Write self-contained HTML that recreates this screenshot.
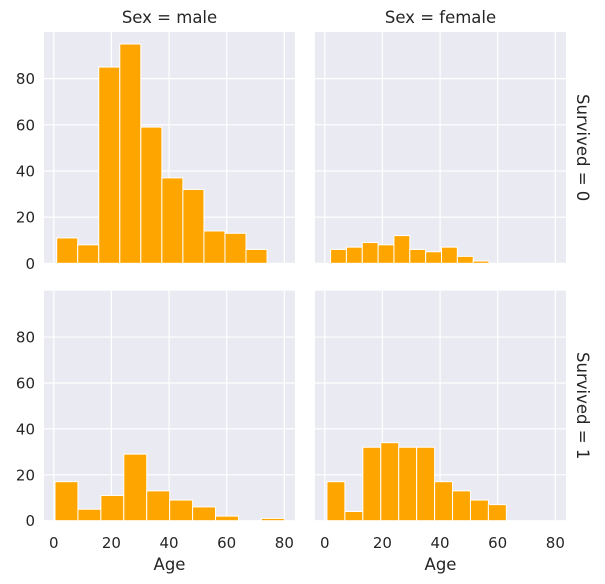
<!DOCTYPE html>
<html><head><meta charset="utf-8"><style>
body{margin:0;background:#fff;}
svg{display:block;font-family:"DejaVu Sans","Liberation Sans",sans-serif;}
</style></head><body>
<svg id="chart" width="605" height="584" viewBox="0 0 605 584"></svg>
<script>
// Data arrays
const ageTicks = [0, 20, 40, 60, 80];
const countTicks = [0, 20, 40, 60, 80];
const maleDiedCounts = [11, 8, 85, 95, 59, 37, 32, 14, 13, 6];
const maleDiedRange = [1, 74];
const maleSurvivedCounts = [17, 5, 11, 29, 13, 9, 6, 2, 0, 1];
const maleSurvivedRange = [0.42, 80];
const femaleDiedCounts = [6, 7, 9, 8, 12, 6, 5, 7, 3, 1];
const femaleDiedRange = [2, 57];
const femaleSurvivedCounts = [17, 4, 32, 34, 32, 32, 17, 13, 9, 7];
const femaleSurvivedRange = [0.75, 63];
const colTitles = ["Sex = male", "Sex = female"];
const rowTitles = ["Survived = 0", "Survived = 1"];

const svg = document.getElementById('chart');
const NS = 'http://www.w3.org/2000/svg';
function mk(tag, attrs, parent){const e=document.createElementNS(NS,tag);for(const k in attrs)e.setAttribute(k,attrs[k]);(parent||svg).appendChild(e);return e;}

const colX = [[44,295],[315,566]];
const rowY = [[32,263.3],[290.7,520.7]];
const xDom = [-3.4, 83.7], yDom = [0, 100.2];

const panels = [
 {r:0,c:0,counts:maleDiedCounts,range:maleDiedRange,name:'male-died'},
 {r:0,c:1,counts:femaleDiedCounts,range:femaleDiedRange,name:'female-died'},
 {r:1,c:0,counts:maleSurvivedCounts,range:maleSurvivedRange,name:'male-survived'},
 {r:1,c:1,counts:femaleSurvivedCounts,range:femaleSurvivedRange,name:'female-survived'}
];

panels.forEach(p=>{
  const [x0,x1]=colX[p.c],[y0,y1]=rowY[p.r];
  const sx=v=>x0+(v-xDom[0])/(xDom[1]-xDom[0])*(x1-x0);
  const sy=v=>y1-(v-yDom[0])/(yDom[1]-yDom[0])*(y1-y0);
  const g=mk('g',{});
  
  
  const bg=mk('rect',{x:x0,y:y0,width:x1-x0,height:y1-y0,fill:'#eaeaf2'},g);
  
  
  ageTicks.forEach(t=>{
    const l=mk('line',{x1:sx(t),x2:sx(t),y1:y0,y2:y1,stroke:'#fff','stroke-width':1.2},g);
    
    
  });
  countTicks.forEach(t=>{
    const l=mk('line',{x1:x0,x2:x1,y1:sy(t),y2:sy(t),stroke:'#fff','stroke-width':1.2},g);
    
    
  });
  const n=p.counts.length, w=(p.range[1]-p.range[0])/n;
  p.counts.forEach((v,i)=>{
    if(v<=0) return;
    const a=p.range[0]+i*w, b=a+w;
    const r=mk('rect',{x:sx(a),y:sy(v),width:sx(b)-sx(a),height:sy(0)-sy(v),fill:'#ffa500',stroke:'#fff','stroke-width':1},g);
    
    
  });
  if(p.c===0){
    countTicks.forEach(t=>{
      const tx=mk('text',{x:x0-9,y:sy(t)+5.5,'text-anchor':'end','font-size':15,fill:'#262626'},g);
      tx.textContent=t;
      
      
    });
  }
  if(p.r===1){
    ageTicks.forEach(t=>{
      const tx=mk('text',{x:sx(t),y:548,'text-anchor':'middle','font-size':15,fill:'#262626'},g);
      tx.textContent=t;
      
      
    });
    const xl=mk('text',{x:(x0+x1)/2,y:570,'text-anchor':'middle','font-size':16.5,fill:'#262626'},g);
    xl.textContent='Age';
    
    
  }
  if(p.r===0){
    const ct=mk('text',{x:(x0+x1)/2,y:23,'text-anchor':'middle','font-size':16.5,fill:'#262626'},g);
    ct.textContent=colTitles[p.c];
    
    
  }
  if(p.c===1){
    const cy=(y0+y1)/2;
    const rt=mk('text',{x:577,y:cy,'text-anchor':'middle','font-size':16.5,fill:'#262626',transform:'rotate(90 577 '+cy+')'},g);
    rt.textContent=rowTitles[p.r];
    
    
  }
});
</script>
</body></html>
